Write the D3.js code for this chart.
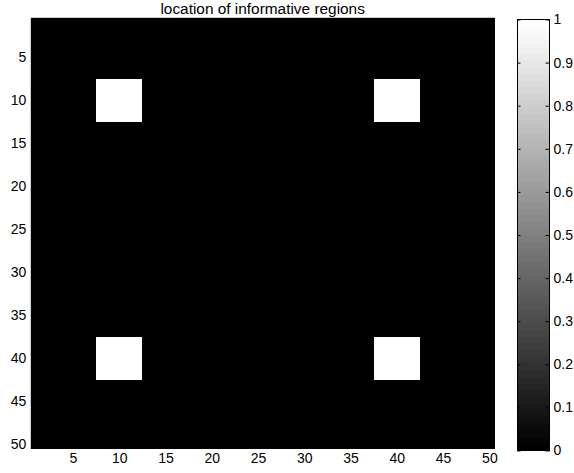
<!DOCTYPE html>
<html>
<head>
<meta charset="utf-8">
<script src="https://cdn.jsdelivr.net/npm/d3@7"></script>
<style>
  html, body { margin: 0; padding: 0; background: #fff; }
  svg { display: block; }
  text { font-family: "Liberation Sans", Arial, Helvetica, sans-serif; }
</style>
</head>
<body>
<script>
// Grid size and the rows / columns that are flagged as informative
const nRows = 50;
const nCols = 50;
const informativeRows = [8, 9, 10, 11, 12, 38, 39, 40, 41, 42];
const informativeCols = [8, 9, 10, 11, 12, 38, 39, 40, 41, 42];

// Tick labels
const xTicks = [5, 10, 15, 20, 25, 30, 35, 40, 45, 50];
const yTicks = [5, 10, 15, 20, 25, 30, 35, 40, 45, 50];
const colorbarTicks = [0, 0.1, 0.2, 0.3, 0.4, 0.5, 0.6, 0.7, 0.8, 0.9, 1];
const colorLevels = 64;
const titleText = "location of informative regions";

// Build the 0/1 matrix
const cells = [];
for (let r = 1; r <= nRows; r++) {
  for (let c = 1; c <= nCols; c++) {
    const v = (informativeRows.includes(r) && informativeCols.includes(c)) ? 1 : 0;
    cells.push({ row: r, col: c, value: v });
  }
}

const W = 574, H = 473;
const plot = { left: 31.3, right: 494, top: 18.3, bottom: 448.3 };
const cbar = { left: 517.5, right: 549.5, top: 19.5, bottom: 450.5 };

// Quantised gray colormap
const gray = v => {
  const idx = Math.min(colorLevels - 1, Math.floor(v * colorLevels));
  const g = Math.round(255 * idx / (colorLevels - 1));
  return `rgb(${g},${g},${g})`;
};

const svg = d3.select("body").append("svg")
  .attr("width", W).attr("height", H);

svg.append("rect").attr("width", W).attr("height", H).attr("fill", "#fff");

const x = d3.scaleLinear().domain([0.5, nCols + 0.5]).range([plot.left, plot.right]);
const y = d3.scaleLinear().domain([0.5, nRows + 0.5]).range([plot.top, plot.bottom]);

// Image cells
svg.append("g")
  .attr("shape-rendering", "crispEdges")
  .selectAll("rect")
  .data(cells)
  .join("rect")
  .attr("x", d => x(d.col - 0.5))
  .attr("y", d => y(d.row - 0.5))
  .attr("width", d => x(d.col + 0.5) - x(d.col - 0.5) + 0.5)
  .attr("height", d => y(d.row + 0.5) - y(d.row - 0.5) + 0.5)
  .attr("fill", d => gray(d.value));

const fontSize = 14;

function styleAxis(g) {
  g.selectAll("text").attr("font-size", fontSize).attr("fill", "#000")
    .attr("font-family", '"Liberation Sans", Arial, Helvetica, sans-serif');
  g.selectAll("line").attr("stroke", "#000");
  g.select(".domain").remove();
}

// Main axes
svg.append("g").attr("transform", `translate(${plot.left},0)`)
  .call(d3.axisLeft(y).tickValues(yTicks).tickSizeInner(-5).tickSizeOuter(0).tickPadding(5))
  .call(styleAxis);
svg.append("g").attr("transform", `translate(0,${plot.bottom})`)
  .call(d3.axisBottom(x).tickValues(xTicks).tickSizeInner(-5).tickSizeOuter(0).tickPadding(5))
  .call(styleAxis);
svg.append("g").attr("transform", `translate(${plot.right},0)`)
  .call(d3.axisRight(y).tickValues(yTicks).tickSizeInner(-5).tickSizeOuter(0).tickFormat(""))
  .call(styleAxis);
svg.append("g").attr("transform", `translate(0,${plot.top})`)
  .call(d3.axisTop(x).tickValues(xTicks).tickSizeInner(-5).tickSizeOuter(0).tickFormat(""))
  .call(styleAxis);

svg.append("rect")
  .attr("x", plot.left).attr("y", plot.top)
  .attr("width", plot.right - plot.left).attr("height", plot.bottom - plot.top)
  .attr("fill", "none").attr("stroke", "#000").attr("stroke-width", 1);

// Title
svg.append("text")
  .attr("x", (plot.left + plot.right) / 2).attr("y", 14)
  .attr("text-anchor", "middle").attr("font-size", 15.4).attr("fill", "#000")
  .text(titleText);

// Colorbar
const cy = d3.scaleLinear().domain([0, 1]).range([cbar.bottom, cbar.top]);
const levels = d3.range(colorLevels);
svg.append("g")
  .attr("shape-rendering", "crispEdges")
  .selectAll("rect")
  .data(levels)
  .join("rect")
  .attr("x", cbar.left)
  .attr("width", cbar.right - cbar.left)
  .attr("y", i => cy((i + 1) / colorLevels))
  .attr("height", i => cy(i / colorLevels) - cy((i + 1) / colorLevels) + 0.5)
  .attr("fill", i => {
    const g = Math.round(255 * i / (colorLevels - 1));
    return `rgb(${g},${g},${g})`;
  });

svg.append("g").attr("transform", `translate(${cbar.right},0)`)
  .call(d3.axisRight(cy).tickValues(colorbarTicks).tickSizeInner(-4).tickSizeOuter(0)
    .tickPadding(4).tickFormat(d3.format("~g")))
  .call(styleAxis);
svg.append("g").attr("transform", `translate(${cbar.left},0)`)
  .call(d3.axisLeft(cy).tickValues(colorbarTicks).tickSizeInner(-3).tickSizeOuter(0).tickFormat(""))
  .call(styleAxis);

svg.append("rect")
  .attr("x", cbar.left).attr("y", cbar.top)
  .attr("width", cbar.right - cbar.left).attr("height", cbar.bottom - cbar.top)
  .attr("fill", "none").attr("stroke", "#000").attr("stroke-width", 1);
</script>
</body>
</html>
